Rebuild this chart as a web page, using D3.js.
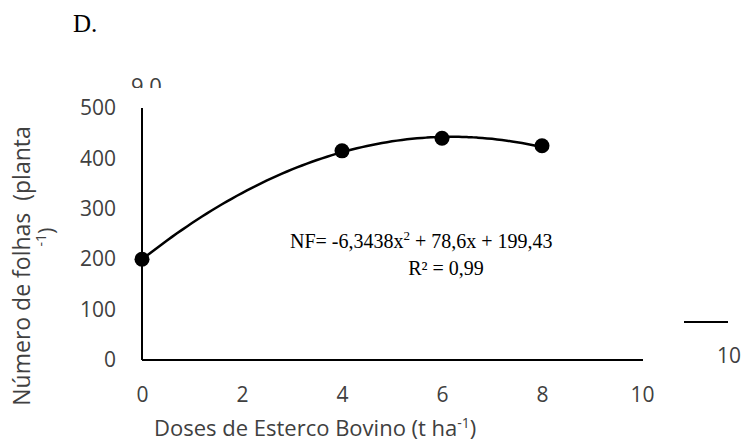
<!DOCTYPE html>
<html>
<head>
<meta charset="utf-8">
<script src="https://cdn.jsdelivr.net/npm/d3@7"></script>
<style>
  body { margin: 0; background: #fff; }
  svg text { fill: #404040; }
</style>
</head>
<body>
<div id="chart"></div>
<script>
// Data
const doses = [0, 4, 6, 8]
const folhas = [200, 415, 440, 425]
const xTicks = [0, 2, 4, 6, 8, 10]
const yTicks = [0, 100, 200, 300, 400, 500]
const coef = [-6.3438, 78.6, 199.43]

const w = 744
const h = 443

const svg = d3.select('#chart').append('svg')
  .attr('width', w)
  .attr('height', h)

const xScale = d3.scaleLinear().domain([0, 10]).range([142, 642])
const yScale = d3.scaleLinear().domain([0, 500]).range([360, 108])

const sans = 'Open Sans, sans-serif'
const serif = 'Liberation Serif, serif'

// Panel letter
svg.append('text')
  .attr('x', 73).attr('y', 32)
  .style('font-family', serif).style('font-size', '25px')
  .style('fill', '#000')
  .text('D.')

// Clipped leftover text at top
svg.append('clipPath').attr('id', 'topclip')
  .append('rect').attr('x', 0).attr('y', 76).attr('width', 300).attr('height', 12)
svg.append('text')
  .attr('clip-path', 'url(#topclip)')
  .attr('x', 131).attr('y', 94)
  .style('font-family', sans).style('font-size', '22px')
  .style('white-space', 'pre')
  .text('9 0    .')

// Axes
const xAxis = d3.axisBottom(xScale).tickValues(xTicks).tickSize(0).tickPadding(27)
const yAxis = d3.axisLeft(yScale).tickValues(yTicks).tickSize(0).tickPadding(26)

svg.append('g')
  .attr('transform', `translate(0, ${yScale(0)})`)
  .call(xAxis)
  .call(g => g.select('.domain').attr('d', `M${xScale(0)},0H${xScale(10) + 1}`).attr('stroke', '#000').attr('stroke-width', 2))
  .call(g => g.selectAll('text').style('font-family', sans).style('font-size', '21px').style('fill', '#404040'))

svg.append('g')
  .attr('transform', `translate(${xScale(0)}, 0)`)
  .call(yAxis)
  .call(g => g.select('.domain').attr('d', `M0,${yScale(500)}V${yScale(0)}`).attr('stroke', '#000').attr('stroke-width', 2))
  .call(g => g.selectAll('text').style('font-family', sans).style('font-size', '21px').style('fill', '#404040'))

// Axis titles
svg.append('text')
  .attr('x', 154).attr('y', 436)
  .style('font-family', sans).style('font-size', '22px')
  .html('Doses de Esterco Bovino (t ha<tspan dy="-8" font-size="14px">-1</tspan><tspan dy="8">)</tspan>')

svg.append('text')
  .attr('transform', 'translate(30, 266) rotate(-90)')
  .attr('text-anchor', 'middle')
  .style('font-family', sans).style('font-size', '23px')
  .style('white-space', 'pre')
  .text('Número de folhas  (planta')

svg.append('text')
  .attr('transform', 'translate(54, 237) rotate(-90)')
  .attr('text-anchor', 'middle')
  .style('font-family', sans).style('font-size', '22px')
  .html('<tspan dy="-8" font-size="14px">-1</tspan><tspan dy="8">)</tspan>')

// Trend curve
const curveX = d3.range(0, 8.01, 0.1)
const line = d3.line()
  .x(d => xScale(d))
  .y(d => yScale(coef[0] * d * d + coef[1] * d + coef[2]))
  .curve(d3.curveBasis)

svg.append('path')
  .datum(curveX)
  .attr('d', line)
  .attr('fill', 'none')
  .attr('stroke', '#000')
  .attr('stroke-width', 2.5)

// Points
svg.selectAll('circle.pt')
  .data(doses)
  .enter()
  .append('circle')
  .attr('class', 'pt')
  .attr('cx', d => xScale(d))
  .attr('cy', (d, i) => yScale(folhas[i]))
  .attr('r', 7.5)
  .attr('fill', '#000')

// Equation
svg.append('text')
  .attr('x', 290).attr('y', 248)
  .style('font-family', serif).style('font-size', '20px').style('fill', '#000')
  .html('NF= -6,3438x<tspan dy="-8" font-size="13px">2</tspan><tspan dy="8"> + 78,6x + 199,43</tspan>')

svg.append('text')
  .attr('x', 446).attr('y', 275)
  .attr('text-anchor', 'middle')
  .style('font-family', serif).style('font-size', '20px').style('fill', '#000')
  .text('R² = 0,99')

// Stray legend fragment at right
svg.append('line')
  .attr('x1', 684).attr('x2', 728)
  .attr('y1', 322).attr('y2', 322)
  .attr('stroke', '#000').attr('stroke-width', 2)

svg.append('text')
  .attr('x', 729).attr('y', 363)
  .attr('text-anchor', 'middle')
  .style('font-family', sans).style('font-size', '21px')
  .text('10')
</script>
</body>
</html>
